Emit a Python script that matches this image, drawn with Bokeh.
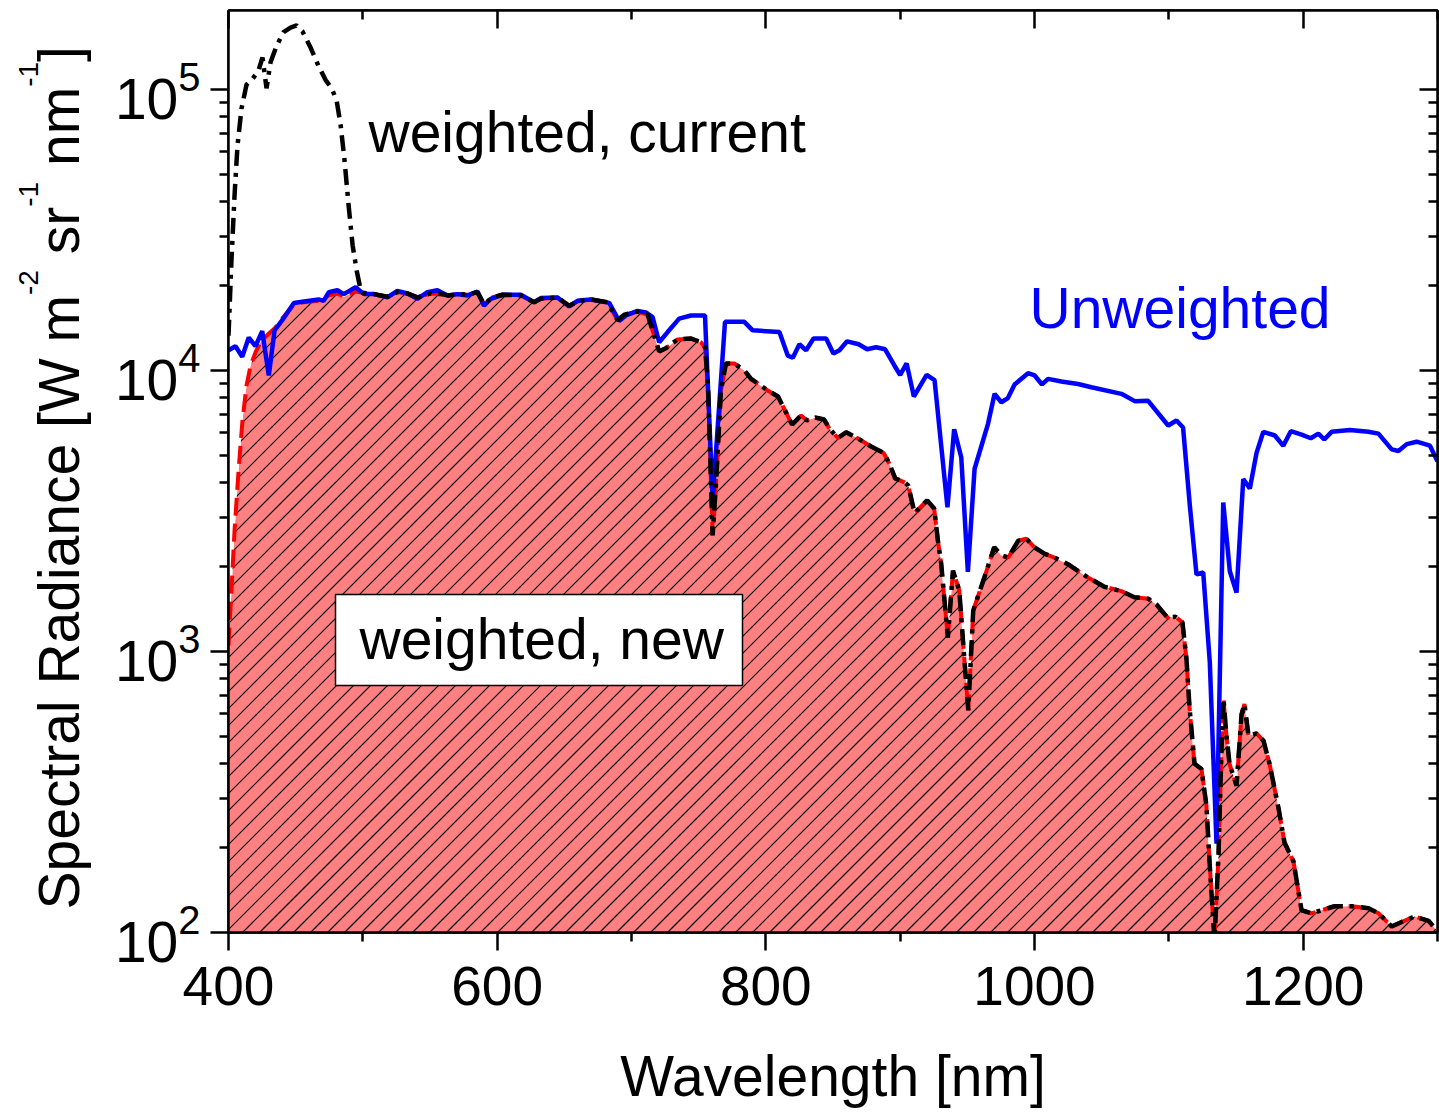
import math
from bokeh.plotting import figure
from bokeh.layouts import row
from bokeh.models import (Range1d, FixedTicker, LinearAxis, LogAxis, Label,
                          BoxAnnotation, LogTickFormatter, CustomJSTickFormatter)
from bokeh.embed import file_html
from bokeh.resources import INLINE

# ---------------- data ----------------
wl_unweighted = [400, 405.2, 410.2, 415.1, 420.1, 425.1, 430.0, 434.3, 440.0, 448.7,
                 456.1, 467.1, 470.8, 474.7, 481.0, 485.9, 494.6, 500.8, 508.3, 518.3,
                 525.7, 533.2, 540.6, 548.1, 555.5, 563.0, 570.4, 577.9, 585.3, 590.2,
                 595.2, 603.9, 617.6, 627.5, 632.5, 644.9, 653.6, 659.8, 669.7, 683.4,
                 690.8, 695.8, 704.5, 710.7, 715.7, 720.6, 726.9, 735.5, 744.3, 754.7,
                 760.4, 769.6, 784.0, 790.2, 810.1, 816.3, 820.1, 825.0, 830.0, 835.5,
                 844.9, 850.3, 854.8, 860.5, 869.1, 875.4, 882.1, 888.8, 895.8, 900.0,
                 904.8, 910.2, 919.7, 925.6, 935.2, 940.2, 945.5, 950.4, 955.4, 965.4,
                 970.3, 975.3, 980.2, 985.2, 995.2, 1000.1, 1005.6, 1010.1, 1020.0, 1032.4,
                 1042.3, 1064.7, 1074.6, 1084.6, 1099.5, 1105.7, 1110.6, 1115.6, 1120.6, 1125.6,
                 1130.5, 1135.5, 1140.5, 1145.4, 1150.4, 1155.4, 1160.3, 1165.3, 1170.3, 1178.9,
                 1185.2, 1190.8, 1198.8, 1205.7, 1211.3, 1215.7, 1221.2, 1234.8, 1248.5, 1256.0,
                 1265.9, 1270.9, 1277.1, 1284.5, 1294.4, 1300.0]
unweighted = [11800, 12200, 11200, 13100, 12200, 13800, 9600, 13900, 15100, 17400,
              17600, 17900, 17700, 19000, 19300, 18700, 19800, 18700, 18700, 18200,
              19200, 18800, 18000, 19000, 19300, 18500, 18700, 18500, 19100, 17000,
              18000, 18600, 18600, 17500, 18100, 18200, 16900, 17700, 17900, 17400,
              15000, 15700, 16300, 16100, 15500, 12600, 13700, 15300, 15700, 15700,
              3450, 14900, 14900, 13900, 13700, 11300, 11100, 12400, 11800, 13000,
              13000, 11500, 11800, 12700, 12400, 11900, 12100, 11900, 10400, 9640,
              10600, 8080, 9640, 9240, 3260, 6180, 4900, 1920, 4470, 6460,
              8260, 7710, 7980, 8920, 9780, 9600, 8920, 9340, 9140, 8950,
              8720, 8260, 7780, 7800, 6370, 6640, 6270, 3320, 1880, 1910,
              915, 207, 3390, 1930, 1620, 4110, 3800, 5090, 6050, 5870,
              5400, 6080, 5910, 5740, 5960, 5680, 6050, 6140, 6050, 5960,
              5240, 5170, 5470, 5580, 5400, 4750]

wl_new = [400.0, 402.2, 404.5, 407.5, 410.4, 413.4, 416.4, 420.1, 423.8, 429.8,
          434.3, 440.0, 448.7, 456.1, 467.1, 474.7, 481.0, 485.9, 494.6, 500.1,
          508.3, 518.3, 525.7, 533.2, 540.6, 550.5, 558.0, 564.2, 570.4, 577.9,
          585.3, 590.2, 596.5, 603.9, 617.6, 627.5, 632.5, 644.9, 653.6, 661.0,
          669.7, 682.2, 689.6, 694.6, 704.5, 712.0, 716.9, 720.6, 725.6, 734.3,
          744.3, 751.7, 754.7, 756.9, 759.2, 760.4, 762.9, 766.6, 770.3, 776.5,
          784.0, 789.0, 801.4, 809.1, 814.3, 819.5, 826.2, 830.7, 836.7, 843.4,
          847.3, 853.6, 859.8, 868.0, 879.1, 887.7, 892.0, 896.3, 903.2, 906.0,
          910.7, 920.1, 925.3, 928.1, 930.5, 935.5, 939.3, 944.0, 947.7, 950.7,
          954.4, 962.6, 970.0, 975.3, 980.5, 987.9, 993.9, 999.9, 1007.3, 1014.8,
          1025.2, 1040.1, 1052.0, 1064.7, 1074.4, 1084.8, 1090.8, 1099.0, 1104.9, 1110.1,
          1113.1, 1115.4, 1119.1, 1124.3, 1128.0, 1130.3, 1134.0, 1137.0, 1139.2, 1140.7,
          1142.9, 1145.2, 1150.4, 1154.1, 1156.3, 1159.3, 1165.3, 1170.5, 1175.0, 1181.7,
          1186.1, 1192.8, 1198.8, 1206.3, 1213.7, 1223.4, 1236.1, 1248.7, 1256.2, 1265.9,
          1273.3, 1283.0, 1293.4, 1300.0]
weighted_new = [1050, 1650, 2700, 4410, 6640, 8840, 10400, 11600, 12600, 13500,
                14100, 15300, 17200, 17500, 17700, 18500, 18800, 18300, 19100, 18900,
                18700, 18300, 19000, 18800, 18200, 18800, 18700, 18500, 18700, 18600,
                19000, 17200, 18200, 18600, 18500, 17500, 18000, 18200, 17000, 17700,
                17900, 17500, 15100, 15800, 16200, 15800, 13300, 11700, 12000, 12900,
                13000, 12600, 12100, 8990, 3960, 2590, 3960, 8490, 10600, 10600,
                10000, 9340, 8490, 8080, 7210, 6420, 6920, 6640, 6800, 6690,
                6220, 5750, 6030, 5750, 5340, 5090, 4660, 4130, 4000, 3900,
                3110, 3450, 3230, 2480, 2060, 1120, 1940, 1650, 952, 617,
                1400, 1830, 2350, 2200, 2160, 2480, 2520, 2350, 2230, 2160,
                2040, 1830, 1700, 1640, 1560, 1540, 1470, 1320, 1330, 1270,
                944, 632, 399, 382, 283, 179, 94, 190, 449, 678,
                502, 398, 333, 596, 650, 502, 511, 481, 398, 276,
                209, 179, 120, 117, 120, 124, 124, 122, 117, 105,
                109, 114, 110, 101]

# weighted (current): differs from "new" only below 500 nm
wl_current_blue = [400.0, 402.2, 404.5, 406.7, 409.7, 413.4, 417.9, 422.4, 425.3, 428.3,
                   431.3, 435.8, 441.0, 446.2, 450.7, 455.1, 461.1, 467.1, 472.3, 476.8,
                   480.5, 483.5, 486.4, 489.4, 492.4, 495.4, 498.4]
current_blue = [13300, 24600, 42000, 63200, 85600, 104000, 109000, 117000, 130000, 101000,
                125000, 143000, 160000, 166000, 169000, 161000, 141000, 121000, 108000, 101000,
                91400, 74500, 55900, 38700, 27900, 22700, 19300]

wl_current = wl_current_blue + [w for w in wl_new if w >= 500]
weighted_current = current_blue + [v for w, v in zip(wl_new, weighted_new) if w >= 500]

x_major = [400, 600, 800, 1000, 1200]
x_minor = [500, 700, 900, 1100, 1300]
y_major = [1e2, 1e3, 1e4, 1e5]
y_minor = [m * 10 ** e for e in range(2, 6) for m in range(2, 10)]

# ---------------- layout ----------------
W, H = 1439, 1112
LW = 100                      # width of the strip holding the y-axis title
FL, FR, FT, FB = 228, 1437, 10, 932   # frame edges in page pixels
X0, X1 = 400, 1300
Y0 = 100
Y1 = 10 ** (2 + (FB - FT) / 281.0)
FONT = "Liberation Sans"
TXT_SHIFT = 20  # empirical baseline correction for Label text
HATCH_STEP = 17


def sx(px):
    return X0 + (px - FL) * (X1 - X0) / (FR - FL)


def sy(py):
    l0, l1 = math.log10(Y0), math.log10(Y1)
    return 10 ** (l0 + (FB - py) * (l1 - l0) / (FB - FT))


p = figure(width=W - LW, height=H, x_range=Range1d(X0, X1), y_range=Range1d(Y0, Y1),
           y_axis_type="log", output_backend="svg", toolbar_location=None,
           min_border_left=FL - LW, min_border_right=W - FR, min_border_top=FT,
           min_border_bottom=H - FB)
p.grid.visible = False
p.outline_line_color = "black"
p.outline_line_width = 2.5
p.background_fill_color = "white"
p.border_fill_color = "white"

# filled area under "weighted, new", with 45-degree hatching
p.varea(x=wl_new, y1=1.0, y2=weighted_new, fill_color="#FF8080")
span = FB - FT
starts = [FL + 14 + HATCH_STEP * k for k in range(-(span // HATCH_STEP) - 2,
                                                   (FR - FL) // HATCH_STEP + 2)]
p.multi_line(xs=[[sx(a), sx(a + span)] for a in starts],
             ys=[[sy(FB), sy(FT)] for a in starts],
             line_color="black", line_width=1.2)
# white cover above the curve keeps the hatching inside the filled area
p.varea(x=wl_new, y1=weighted_new, y2=Y1 * 10, fill_color="white")

p.line(wl_new, weighted_new, line_color="#FF0000", line_width=4, line_dash="18 8")
p.line(wl_unweighted, unweighted, line_color="#0000FF", line_width=4.5)
p.line(wl_current, weighted_current, line_color="black", line_width=4.5,
       line_dash="16 7 4 7")


def style(ax, tin, tout, labels=True, fs="55px"):
    ax.axis_line_width = 2.5
    ax.axis_line_color = "black"
    ax.major_tick_line_width = 2.5
    ax.minor_tick_line_width = 2.5
    ax.major_tick_line_color = "black"
    ax.minor_tick_line_color = "black"
    ax.major_tick_in = tin
    ax.major_tick_out = tout
    ax.minor_tick_in = tin // 2
    ax.minor_tick_out = tout // 2
    ax.major_label_text_font = FONT
    ax.major_label_text_color = "black"
    ax.major_label_text_font_size = fs
    if not labels:
        ax.formatter = CustomJSTickFormatter(code="return ''")
        ax.major_label_standoff = 0


xb = p.xaxis[0]
xb.ticker = FixedTicker(ticks=x_major, minor_ticks=x_minor)
style(xb, 0, 18, fs="55px")
xb.major_label_standoff = 16
xb.axis_label = "Wavelength [nm]"
xb.axis_label_text_font = FONT
xb.axis_label_text_font_size = "57px"
xb.axis_label_text_font_style = "normal"
xb.axis_label_text_color = "black"
xb.axis_label_standoff = 36

yl = p.yaxis[0]
yl.ticker = FixedTicker(ticks=y_major, minor_ticks=y_minor)
yl.formatter = LogTickFormatter()
style(yl, 0, 18, fs="57px")
yl.major_label_standoff = 10

xt = LinearAxis(ticker=FixedTicker(ticks=x_major, minor_ticks=x_minor))
style(xt, 18, 0, labels=False)
p.add_layout(xt, "above")

yr = LogAxis(ticker=FixedTicker(ticks=y_major, minor_ticks=y_minor))
style(yr, 18, 0, labels=False)
p.add_layout(yr, "right")

p.add_layout(Label(x=sx(368), y=sy(151.5 - TXT_SHIFT), text="weighted, current",
                   text_font=FONT, text_font_size="57px", text_color="black",
                   text_align="left", text_baseline="alphabetic"))
p.add_layout(Label(x=sx(1029), y=sy(327.5 - TXT_SHIFT), text="Unweighted",
                   text_font=FONT, text_font_size="57px", text_color="#0000FF",
                   text_align="left", text_baseline="alphabetic"))
p.add_layout(BoxAnnotation(left=sx(335), right=sx(742), top=sy(594), bottom=sy(685),
                           fill_color="white", fill_alpha=1.0, line_color="black",
                           line_alpha=1.0, line_width=1.5))
p.add_layout(Label(x=sx(359), y=sy(658 - TXT_SHIFT), text="weighted, new",
                   text_font=FONT, text_font_size="57px", text_color="black",
                   text_align="left", text_baseline="alphabetic"))

# ---------------- y-axis title strip (with superscripts) ----------------
# In a row layout the frames are aligned with the main plot's frame (page y 10..932),
# so the strip's y range is set so that data y == H - page y.
ylab = figure(width=LW, height=H, x_range=Range1d(0, LW), y_range=Range1d(H - FB, H - FT),
              output_backend="svg", toolbar_location=None, min_border=0,
              x_axis_location=None, y_axis_location=None)
ylab.grid.visible = False
ylab.outline_line_color = None
ylab.background_fill_color = "white"
ylab.border_fill_color = "white"

ARIAL = {"S": 667, "p": 556, "e": 556, "c": 500, "t": 278, "r": 333, "a": 556,
         "l": 222, " ": 278, "R": 722, "d": 556, "i": 222, "n": 556, "[": 278,
         "W": 944, "m": 833, "-": 333, "2": 556, "s": 500, "1": 556, "]": 278}


def tw(s, fs):
    return sum(ARIAL[c] for c in s) * fs / 1000.0


MAIN_FS, SUP_FS = 57, 28
MAIN_BASE, SUP_BASE = 78, 38
# (text, superscript?, space before it)
segments = [("Spectral Radiance [W m", False, False), ("-2", True, False),
            ("sr", False, True), ("-1", True, False), ("nm", False, True),
            ("-1", True, False), ("]", False, False)]
py = 909.0
for seg, sup, space in segments:
    fs = SUP_FS if sup else MAIN_FS
    if space:
        py -= tw(" ", MAIN_FS)
    L = tw(seg, fs)
    base = SUP_BASE if sup else MAIN_BASE
    cx = base - TXT_SHIFT * fs / MAIN_FS
    cy = py - L / 2.0
    ylab.add_layout(Label(x=cx, y=H - cy, text=seg, angle=math.pi / 2,
                          text_font=FONT, text_font_size=f"{fs}px", text_color="black",
                          text_align="center", text_baseline="middle"))
    py -= L

layout = row(ylab, p, spacing=0)
open("out.html", "w").write(file_html(layout, INLINE))
